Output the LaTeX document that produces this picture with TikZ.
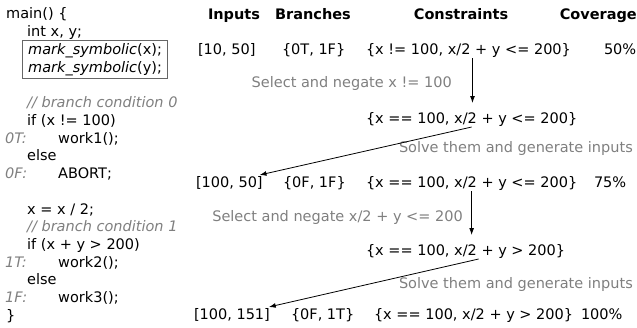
\documentclass[tikz,border=0pt]{standalone}
\usepackage{fontspec}
\setmainfont{DejaVu Sans}
\usepackage{tikz}
\usetikzlibrary{arrows.meta,positioning,fit}
\definecolor{NoteGray}{HTML}{7F7F7F}
\definecolor{FrameGray}{HTML}{666666}
\newcommand{\codesize}{\fontsize{14.5}{17.7}\selectfont}
\tikzset{
  code/.style={font=\codesize,anchor=base west,inner sep=0pt},
  comment/.style={code,font=\codesize\itshape,text=NoteGray},
  head/.style={font=\codesize\bfseries,anchor=base,inner sep=0pt},
  cell/.style={font=\codesize,anchor=base west,inner sep=0pt,outer sep=1pt},
  note/.style={font=\codesize,anchor=base east,inner sep=0pt,text=NoteGray},
  markbox/.style={draw=FrameGray,line width=0.8pt,inner xsep=5.5pt,inner ysep=2.5pt},
  flow/.style={-{Latex[length=2.4mm,width=1.7mm]},line width=0.8pt}
}

\begin{document}
\begin{tikzpicture}[x=1pt,y=-1pt]
  \useasboundingbox (0,0) rectangle (637,327);

  % program under test
  \node[code] (main) at (6,18) {main() \{};
  \node[code] (decl) at (27,36) {int x, y;};
  \node[code] (mk1) at (28,54) {\textit{mark\_symbolic}(x);};
  \node[code] (mk2) at (28,72) {\textit{mark\_symbolic}(y);};
  \node[markbox,fit=(mk1)(mk2)] (marks) {};
  \node[comment] (cmt0) at (27,107) {// branch condition 0};
  \node[code] (if0) at (27,125) {if (x != 100)};
  \node[comment] (lab0t) at (5,143) {0T:};
  \node[code] (work1) at (58,143) {work1();};
  \node[code] (else0) at (27,160) {else};
  \node[comment] (lab0f) at (5,178) {0F:};
  \node[code] (abort) at (58,178) {ABORT;};
  \node[code] (halve) at (27,214) {x = x / 2;};
  \node[comment] (cmt1) at (27,231) {// branch condition 1};
  \node[code] (if1) at (27,249) {if (x + y > 200)};
  \node[comment] (lab1t) at (5,267) {1T:};
  \node[code] (work2) at (58,267) {work2();};
  \node[code] (else1) at (27,284) {else};
  \node[comment] (lab1f) at (5,302) {1F:};
  \node[code] (work3) at (58,302) {work3();};
  \node[code] (close) at (6,320) {\}};

  % table header
  \node[head] (hin) at (234,19) {Inputs};
  \node[head] (hbr) at (313,19) {Branches};
  \node[head] (hcs) at (461,19) {Constraints};
  \node[head,anchor=base east] (hcv) at (637,19) {Coverage};

  % first run
  \node[cell] (in1) at (197,54) {[10, 50]};
  \node[cell] (br1) at (281,54) {\{0T, 1F\}};
  \node[cell] (cs1) at (365,54) {\{x != 100, x/2 + y <= 200\}};
  \node[cell] (cv1) at (603,54) {50\%};
  \node[note] (sel1) at (452,87) {Select and negate x != 100};
  \node[cell] (neg1) at (365,123) {\{x == 100, x/2 + y <= 200\}};
  \node[note] (solve1) at (633,152) {Solve them and generate inputs};

  % second run
  \node[cell] (in2) at (195,187) {[100, 50]};
  \node[cell] (br2) at (282,187) {\{0F, 1F\}};
  \node[cell] (cs2) at (365,187) {\{x == 100, x/2 + y <= 200\}};
  \node[cell] (cv2) at (593,187) {75\%};
  \node[note] (sel2) at (463,221) {Select and negate x/2 + y <= 200};
  \node[cell] (neg2) at (365,255) {\{x == 100, x/2 + y > 200\}};
  \node[note] (solve2) at (633,288) {Solve them and generate inputs};

  % third run
  \node[cell] (in3) at (193,319) {[100, 151]};
  \node[cell] (br3) at (290,319) {\{0F, 1T\}};
  \node[cell] (cs3) at (373,319) {\{x == 100, x/2 + y > 200\}};
  \node[cell] (cv3) at (580,319) {100\%};

  \draw[flow,shorten >=8pt] ([xshift=4pt]cs1.south) -- ([xshift=4pt]cs1.south |- neg1.north);
  \draw[flow] (neg1.south) -- ([xshift=-4pt]in2.north east);
  \draw[flow,shorten >=8pt] (cs2.south) -- (cs2.south |- neg2.north);
  \draw[flow] ([xshift=13pt]neg2.south) -- ([xshift=-2pt]in3.north east);
\end{tikzpicture}
\end{document}
